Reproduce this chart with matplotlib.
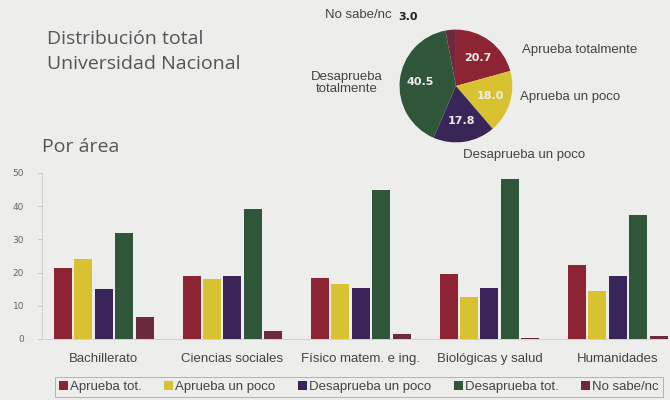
import matplotlib.pyplot as plt
import numpy as np

# data
areas = ['Bachillerato', 'Ciencias sociales', 'Físico matem. e ing.',
         'Biológicas y salud', 'Humanidades']
series = ['Aprueba tot.', 'Aprueba un poco', 'Desaprueba un poco',
          'Desaprueba tot.', 'No sabe/nc']
aprueba_tot = [21.5, 19.1, 18.5, 19.7, 22.4]
aprueba_poco = [24.2, 18.1, 16.7, 12.7, 14.5]
desaprueba_poco = [15.1, 19.1, 15.4, 15.5, 19.1]
desaprueba_tot = [31.8, 39.1, 44.8, 48.2, 37.3]
no_sabe = [6.7, 2.4, 1.5, 0.3, 1.0]

pie_values = [20.7, 18.0, 17.8, 40.5, 3.0]
pie_labels = ['Aprueba totalmente', 'Aprueba un poco', 'Desaprueba un poco',
              'Desaprueba\ntotalmente', 'No sabe/nc']

colors = ['#8c2434', '#d8c232', '#3a2558', '#2f5638', '#6c2a3e']
bg = '#ededeb'
narrow = ['Liberation Sans', 'DejaVu Sans']

fig = plt.figure(figsize=(6.7, 4.0), dpi=100, facecolor=bg)

# titles
fig.text(0.07, 0.9025, 'Distribución total', fontsize=14, color='#555555',
         family='Open Sans', va='center')
fig.text(0.07, 0.84, 'Universidad Nacional', fontsize=14, color='#555555',
         family='Open Sans', va='center')
fig.text(0.063, 0.6325, 'Por área', fontsize=14, color='#555555',
         family='Open Sans', va='center')

# bar chart
ax = fig.add_axes([0.063, 0.1525, 0.934, 0.415])
ax.set_facecolor(bg)
x = np.arange(len(areas))
step = 0.159
width = 0.14
all_series = [aprueba_tot, aprueba_poco, desaprueba_poco, desaprueba_tot, no_sabe]
for i, vals in enumerate(all_series):
    ax.bar(x + (i - 2) * step, vals, width, color=colors[i], label=series[i])
ax.set_xlim(-0.48, 4.39)
ax.set_ylim(0, 50)
ax.set_yticks(range(0, 51, 10))
ax.set_xticks(x)
ax.set_xticklabels(areas, family=narrow, fontsize=9.5, color='#444444')
ax.tick_params(axis='y', labelsize=6.5, labelcolor='#666666', length=3,
               color='#bbbbbb', width=0.6, pad=10)
ax.tick_params(axis='x', length=0, pad=10)
for s in ['top', 'right']:
    ax.spines[s].set_visible(False)
ax.spines['left'].set_color('#cccccc')
ax.spines['left'].set_linewidth(0.6)
ax.spines['bottom'].set_color('#cccccc')
ax.spines['bottom'].set_linewidth(0.6)

leg = fig.legend(loc='lower left', bbox_to_anchor=(0.082, 0.0075, 0.907, 0.05),
                 ncol=5, mode='expand', frameon=True, fancybox=False,
                 borderaxespad=0,
                 handlelength=0.7, handleheight=0.7, handletextpad=0.15,
                 borderpad=0.3, columnspacing=0.5,
                 prop={'family': narrow, 'size': 9.5})
leg.get_frame().set_edgecolor('#999999')
leg.get_frame().set_facecolor(bg)
leg.get_frame().set_linewidth(0.6)
for t in leg.get_texts():
    t.set_color('#444444')

# pie chart
pax = fig.add_axes([0.5955, 0.6425, 0.170, 0.285])
wedges, texts, autotexts = pax.pie(pie_values, colors=colors, startangle=90,
                                   counterclock=False, autopct='%.1f',
                                   pctdistance=0.63,
                                   wedgeprops={'linewidth': 0})
for t in autotexts:
    t.set_color('#eeeeee')
    t.set_fontsize(8)
    t.set_fontweight('bold')
autotexts[4].set_position((-1.02, 1.23))
autotexts[4].set_color('#222222')
autotexts[4].set_ha('left')
pax.set_aspect('equal')
pax.set_xlim(-1.01, 1.01)
pax.set_ylim(-1.01, 1.01)

lab_kw = dict(family=narrow, fontsize=9.5, color='#444444')
fig.text(0.585, 0.9625, pie_labels[4], ha='right', va='center', **lab_kw)
fig.text(0.779, 0.875, pie_labels[0], ha='left', va='center', **lab_kw)
fig.text(0.776, 0.7575, pie_labels[1], ha='left', va='center', **lab_kw)
fig.text(0.691, 0.6125, pie_labels[2], ha='left', va='center', **lab_kw)
fig.text(0.518, 0.7925, pie_labels[3], ha='center', va='center',
         linespacing=1.0, **lab_kw)

fig.savefig('out.png', dpi=100, facecolor=bg)
